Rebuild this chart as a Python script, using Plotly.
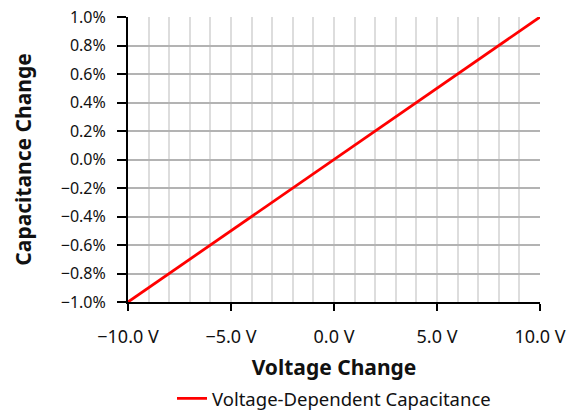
import plotly.graph_objects as go

# voltage change (V) vs capacitance change (fraction)
voltage = [-10, -5, 0, 5, 10]
cap_change = [-0.010, -0.005, 0.0, 0.005, 0.010]
series_name = 'Voltage-Dependent Capacitance'

fig = go.Figure()
fig.add_trace(go.Scatter(x=voltage, y=cap_change, mode='lines', name=series_name,
                         line=dict(color='#ff0000', width=2.8)))

fig.update_layout(
    width=574, height=412,
    margin=dict(l=128, r=34, t=17, b=110, autoexpand=False),
    plot_bgcolor='white', paper_bgcolor='white',
    font=dict(family='Noto Sans', size=16, color='#111'),
    showlegend=True,
    legend=dict(orientation='h', x=0.5, xanchor='center', y=-0.273, yanchor='top',
                font=dict(size=18.5)),
)
fig.update_xaxes(
    range=[-10, 10], dtick=5, tickformat='.1f', ticksuffix=' V',
    showline=True, linecolor='black', linewidth=2, automargin=False,
    ticks='outside', ticklen=7, tickwidth=2, tickcolor='black',
    ticklabelstandoff=10, tickfont=dict(size=18),
    showgrid=True, gridcolor='#dddddd', gridwidth=1.5, zeroline=False,
    minor=dict(dtick=1, showgrid=True, gridcolor='#dddddd', gridwidth=1.5),
    title=dict(text='<b>Voltage Change</b>', font=dict(size=21), standoff=14),
)
fig.update_yaxes(
    range=[-0.01, 0.01], dtick=0.002, tickformat='.1%',
    showline=True, linecolor='black', linewidth=2, automargin=False,
    ticks='outside', ticklen=9, tickwidth=2, tickcolor='black',
    ticklabelstandoff=8, tickfont=dict(size=16),
    showgrid=True, gridcolor='#b3b3b3', gridwidth=1.5, zeroline=False,
    title=dict(text='<b>Capacitance Change</b>', font=dict(size=21), standoff=23),
)

# drop the default 8px page margin so the figure fills the window
fig.write_html('out.html', config={'displayModeBar': False},
               post_script="document.body.style.margin='0';")
